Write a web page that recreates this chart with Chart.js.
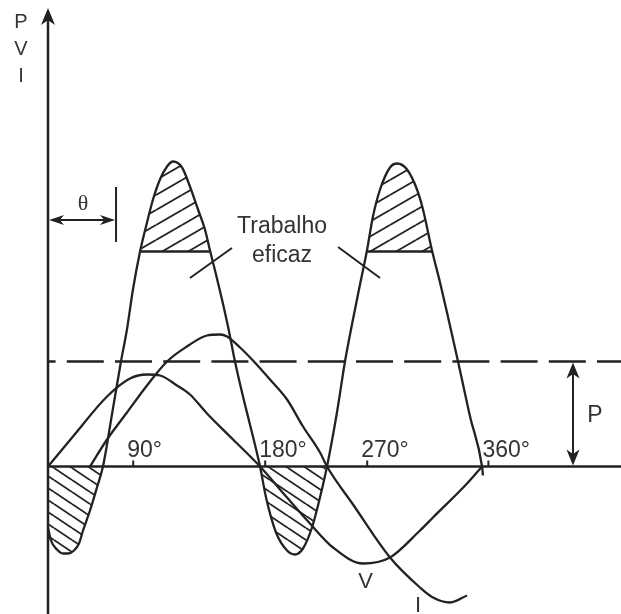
<!DOCTYPE html>
<html>
<head>
<meta charset="utf-8">
<script src="https://cdn.jsdelivr.net/npm/chart.js@4.4.0/dist/chart.umd.min.js"></script>
<style>
  html, body { margin: 0; padding: 0; background: #fff; }
  #wrap { width: 621px; height: 614px; }
</style>
</head>
<body>
<div id="wrap"><canvas id="chart" width="621" height="614"></canvas></div>
<script>
// x = electrical angle (degrees), y = amplitude (0 on the time axis)
const voltage = [
  [0, 0], [20.8, 0.30], [49.2, 0.70], [68.3, 0.88], [82.5, 0.92], [93.3, 0.91],
  [107.5, 0.81], [118.3, 0.72], [132.5, 0.53], [154.2, 0.27], [176.7, 0],
  [199.2, -0.31], [218.3, -0.57], [237.5, -0.81], [262.5, -0.97], [285, -0.91],
  [310, -0.64], [320.8, -0.51], [349.2, -0.17], [361.7, 0]
];
const current = [
  [35, 0], [49.2, 0.27], [65.8, 0.54], [82.5, 0.81], [99.2, 1.05], [115.8, 1.20],
  [132.5, 1.31], [143.3, 1.32], [149.2, 1.30], [160, 1.19], [170.8, 1.06],
  [185, 0.87], [199.2, 0.67], [212.5, 0.40], [226.7, 0.14], [232.5, 0],
  [254.2, -0.38], [285, -0.91], [310, -1.21], [320.8, -1.31], [335, -1.36], [349.2, -1.29]
];
const power = [
  [0, -0.61], [2.5, -0.74], [7.5, -0.83], [12.5, -0.87], [16.7, -0.87], [21.7, -0.84],
  [25.8, -0.77], [29.2, -0.64], [35, -0.44], [40.8, -0.21], [45.8, 0], [53.3, 0.52],
  [60.8, 1.05], [65.8, 1.37], [70.8, 1.77], [76.7, 2.15], [82.5, 2.44], [87.5, 2.67],
  [93.3, 2.87], [99.2, 3.00], [104.2, 3.05], [111.7, 2.99], [118.3, 2.80], [125, 2.57],
  [130.8, 2.37], [135, 2.16], [140, 1.92], [145, 1.67], [150, 1.40], [155.8, 1.05],
  [162.5, 0.70], [168.3, 0.42], [176.7, 0], [181.7, -0.31], [190, -0.66], [199.2, -0.84],
  [205.8, -0.88], [212.5, -0.82], [220, -0.61], [225, -0.39], [232.5, 0], [240.8, 0.54],
  [247.5, 1.05], [253.3, 1.42], [260, 1.82], [265.8, 2.16], [270.8, 2.50], [276.7, 2.77],
  [285, 2.99], [290.8, 3.03], [299.2, 2.97], [307.5, 2.77], [312.5, 2.57], [320, 2.16],
  [326.7, 1.84], [334.2, 1.45], [341.7, 1.05], [351.7, 0.50], [361.7, 0], [362.5, -0.09]
];
const meanPower = 1.05;      // dashed line, average power P
const workLevel = 2.15;      // bottom of the "Trabalho eficaz" caps
const thetaAngle = 56.7;     // end of the θ marker
const tickPos = [71, 181, 266, 367];
const tickLabels = ['90°', '180°', '270°', '360°'];
const axisNames = ['P', 'V', 'I'];

const INK = '#222';
const TEXT = '#333';
const SANS = '"Liberation Sans", Arial, sans-serif';
const SERIF = '"Liberation Serif", "Times New Roman", serif';
const X_MIN = -40, X_MAX = 477.5;
const Y_MIN = -1.475, Y_MAX = 4.665;

const canvas = document.getElementById('chart');
const ctx = canvas.getContext('2d');

// diagonal hatch tile, dir 1 = "/" and -1 = "\"
function hatch(w, h, dir) {
  const c = document.createElement('canvas');
  c.width = w; c.height = h;
  const g = c.getContext('2d');
  g.strokeStyle = INK;
  g.lineWidth = 1.8;
  for (const off of [-h, 0, h]) {
    g.beginPath();
    if (dir > 0) { g.moveTo(0, h + off); g.lineTo(w, off); }
    else { g.moveTo(0, off); g.lineTo(w, h + off); }
    g.stroke();
  }
  return ctx.createPattern(c, 'repeat');
}
const hatchUp = hatch(26, 15, 1);
const hatchDown = hatch(18, 12, -1);
const NONE = 'rgba(0,0,0,0)';

const toXY = pts => pts.map(([x, y]) => ({ x, y }));
// parts of the power curve above the work level / below zero (for the hatching)
const capPart = power.map(([x, y]) => [x, Math.max(y, workLevel)]);
const negPart = power.map(([x, y]) => [x, Math.min(y, 0)]);

function levelSpans(pts, level) {
  const xs = [];
  for (let k = 1; k < pts.length; k++) {
    const [x1, y1] = pts[k - 1], [x2, y2] = pts[k];
    if ((y1 < level) !== (y2 < level)) xs.push(x1 + (level - y1) * (x2 - x1) / (y2 - y1));
  }
  const spans = [];
  for (let k = 0; k + 1 < xs.length; k += 2) spans.push([xs[k], xs[k + 1]]);
  return spans;
}

function arrowHead(c, tx, ty, dx, dy, len, half) {
  const bx = tx - dx * len, by = ty - dy * len;
  const nx = -dy, ny = dx;
  c.beginPath();
  c.moveTo(tx, ty);
  c.lineTo(bx + nx * half, by + ny * half);
  c.lineTo(tx - dx * len * 0.72, ty - dy * len * 0.72);
  c.lineTo(bx - nx * half, by - ny * half);
  c.closePath();
  c.fill();
}

const overlay = {
  id: 'overlay',
  afterDatasetsDraw(chart) {
    const c = chart.ctx;
    const sx = chart.scales.x, sy = chart.scales.y;
    const X = v => sx.getPixelForValue(v);
    const Y = v => sy.getPixelForValue(v);
    const x0 = X(0), y0 = Y(0);

    c.save();
    c.strokeStyle = INK;
    c.fillStyle = INK;
    c.lineCap = 'butt';

    // axes
    c.lineWidth = 2.5;
    c.beginPath();
    c.moveTo(x0, chart.height); c.lineTo(x0, Y(4.5));
    c.moveTo(x0, y0); c.lineTo(chart.width, y0);
    c.stroke();
    arrowHead(c, x0, Y(4.585), 0, -1, 17, 7);

    // caps of effective work
    c.lineWidth = 2.3;
    c.beginPath();
    for (const [a, b] of levelSpans(power, workLevel)) {
      c.moveTo(X(a), Y(workLevel)); c.lineTo(X(b), Y(workLevel));
    }
    c.stroke();

    // ticks and labels
    c.lineWidth = 2;
    c.beginPath();
    tickPos.forEach(t => { c.moveTo(X(t), y0); c.lineTo(X(t), y0 - 6); });
    c.stroke();
    c.fillStyle = TEXT;
    c.font = '23px ' + SANS;
    c.textAlign = 'left';
    c.textBaseline = 'alphabetic';
    tickPos.forEach((t, k) => c.fillText(tickLabels[k], X(t) - 6, Y(0.095)));

    // axis names
    c.font = '20px ' + SANS;
    c.textAlign = 'center';
    axisNames.forEach((n, k) => c.fillText(n, X(-22.5), Y(4.385 - k * 0.27)));

    // theta marker
    c.fillStyle = INK;
    c.lineWidth = 2;
    const ty = Y(2.465), tx = X(thetaAngle);
    c.beginPath();
    c.moveTo(x0 + 4, ty); c.lineTo(tx - 4, ty);
    c.moveTo(tx, Y(2.795)); c.lineTo(tx, Y(2.245));
    c.stroke();
    arrowHead(c, x0 + 1, ty, -1, 0, 15, 5);
    arrowHead(c, tx - 1, ty, 1, 0, 15, 5);
    c.fillStyle = TEXT;
    c.font = '22px ' + SERIF;
    c.fillText('θ', X(29.2), Y(2.565));

    // mean power arrow
    c.fillStyle = INK;
    const px = X(437.5), pt = Y(meanPower);
    c.beginPath();
    c.moveTo(px, pt + 6); c.lineTo(px, y0 - 6);
    c.stroke();
    arrowHead(c, px, pt + 1, 0, -1, 16, 6.5);
    arrowHead(c, px, y0 - 1, 0, 1, 16, 6.5);
    c.fillStyle = TEXT;
    c.font = '23px ' + SANS;
    c.fillText('P', X(455.8), Y(0.445));

    // curve names
    c.font = '22px ' + SANS;
    c.fillText('V', X(264.6), Y(-1.215));
    c.fillText('I', X(308.3), Y(-1.455));

    // "Trabalho eficaz" with leaders
    c.font = '23px ' + SANS;
    c.fillText('Trabalho', X(195), Y(2.335));
    c.fillText('eficaz', X(195), Y(2.045));
    c.lineWidth = 2;
    c.beginPath();
    c.moveTo(X(118.3), Y(1.885)); c.lineTo(X(153.3), Y(2.185));
    c.moveTo(X(241.7), Y(2.195)); c.lineTo(X(276.7), Y(1.885));
    c.stroke();
    c.restore();
  }
};

const curve = (label, pts, extra) => Object.assign({
  label,
  data: toXY(pts),
  borderColor: INK,
  borderWidth: 2.3,
  pointRadius: 0,
  cubicInterpolationMode: 'monotone',
  fill: false
}, extra);

new Chart(ctx, {
  type: 'line',
  data: {
    datasets: [
      curve('P', power),
      curve('cap', capPart, { borderWidth: 0, borderColor: NONE, fill: { value: workLevel }, backgroundColor: hatchUp }),
      curve('neg', negPart, { borderWidth: 0, borderColor: NONE, fill: 'origin', backgroundColor: hatchDown }),
      curve('V', voltage),
      curve('I', current),
      {
        label: 'P médio',
        data: [{ x: 0, y: meanPower }, { x: X_MAX, y: meanPower }],
        borderColor: INK,
        borderWidth: 2.3,
        borderDash: [37, 11.2],
        borderDashOffset: 29.4,
        pointRadius: 0,
        fill: false
      }
    ]
  },
  options: {
    responsive: false,
    animation: false,
    events: [],
    layout: { padding: 0 },
    plugins: { legend: { display: false }, tooltip: { enabled: false } },
    scales: {
      x: { type: 'linear', min: X_MIN, max: X_MAX, display: false },
      y: { type: 'linear', min: Y_MIN, max: Y_MAX, display: false }
    }
  },
  plugins: [overlay]
});
</script>
</body>
</html>
